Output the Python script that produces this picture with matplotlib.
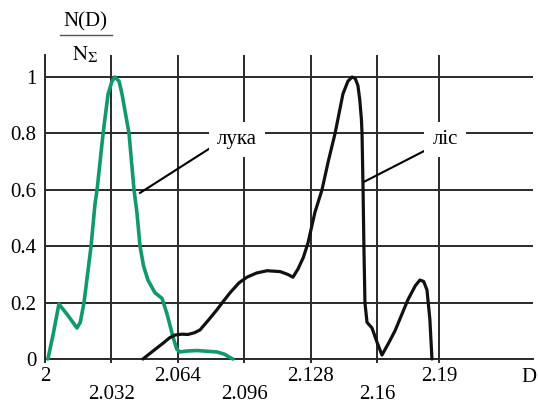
import matplotlib
matplotlib.use("Agg")
import matplotlib.pyplot as plt

# ---- data ----
luka_D = [2.0014, 2.0040, 2.0067, 2.0110, 2.0154, 2.0170, 2.0188, 2.0222, 2.0241, 2.0251,
          2.0280, 2.0304, 2.0323, 2.0337, 2.0357, 2.0371, 2.0405, 2.0429, 2.0443,
          2.0458, 2.0475, 2.0496, 2.0530, 2.0564, 2.0588, 2.0617, 2.0635, 2.0650,
          2.0680, 2.0733, 2.0829, 2.0865, 2.0892, 2.0906]
luka_N = [0.0, 0.09, 0.195, 0.155, 0.11, 0.13, 0.20, 0.40, 0.55, 0.60,
          0.80, 0.94, 0.985, 1.0, 0.985, 0.94, 0.80, 0.60, 0.52,
          0.40, 0.33, 0.28, 0.235, 0.215, 0.16, 0.078, 0.035, 0.025,
          0.028, 0.03, 0.025, 0.017, 0.005, 0.0]

lis_D = [2.0472, 2.0520, 2.0569, 2.0600, 2.0627, 2.0660, 2.0689, 2.0720, 2.0747,
         2.0790, 2.0829, 2.0860, 2.0892, 2.0935, 2.0973, 2.1020, 2.1070, 2.1133,
         2.1170, 2.1195, 2.1220, 2.1245, 2.1267, 2.1301, 2.1335, 2.1365, 2.1398,
         2.1436, 2.1460, 2.1480, 2.1495, 2.1508, 2.1517, 2.1525, 2.1528, 2.1533,
         2.1537, 2.1542, 2.1552, 2.1576, 2.1600, 2.1624, 2.1655, 2.1687, 2.1749,
         2.1785, 2.1807, 2.1825, 2.1841, 2.1855, 2.1865]
lis_N = [0.0, 0.028, 0.056, 0.075, 0.085, 0.088, 0.087, 0.093, 0.103,
         0.14, 0.175, 0.205, 0.235, 0.27, 0.29, 0.305, 0.313, 0.31,
         0.30, 0.29, 0.32, 0.36, 0.41, 0.52, 0.60, 0.70, 0.80,
         0.94, 0.985, 1.0, 0.995, 0.97, 0.92, 0.85, 0.80, 0.60,
         0.40, 0.20, 0.13, 0.11, 0.06, 0.014, 0.055, 0.10, 0.21,
         0.26, 0.28, 0.275, 0.245, 0.14, 0.0]

x_ticks_upper = [2.0, 2.064, 2.128, 2.19]
x_labels_upper = ["2", "2.064", "2.128", "2.19"]
x_ticks_lower = [2.032, 2.096, 2.16]
x_labels_lower = ["2.032", "2.096", "2.16"]
y_ticks = [0, 0.2, 0.4, 0.6, 0.8, 1.0]
y_labels = ["0", "0.2", "0.4", "0.6", "0.8", "1"]

plt.rcParams['font.family'] = ['Liberation Serif', 'DejaVu Serif']
plt.rcParams['mathtext.fontset'] = 'stix'

GREEN = '#12996b'
GRID = '#2a2a2a'
FS = 15

fig = plt.figure(figsize=(5.38, 4.03), dpi=100)
ax = fig.add_axes([45/538, (403-359)/403, 488/538, 304/403])
ax.set_xlim(2.0, 2.2352)
ax.set_ylim(0, 1.078)

for s in ['top', 'right']:
    ax.spines[s].set_visible(False)
for s in ['left', 'bottom']:
    ax.spines[s].set_color(GRID)
    ax.spines[s].set_linewidth(1.4)

ax.set_xticks(x_ticks_upper)
ax.set_xticklabels(x_labels_upper)
ax.set_xticks(x_ticks_lower, minor=True)
ax.set_xticklabels(x_labels_lower, minor=True)
ax.set_yticks(y_ticks)
ax.set_yticklabels(y_labels)

ax.tick_params(axis='x', which='major', direction='out', length=3, width=1.4,
               color=GRID, pad=3, labelsize=FS)
ax.tick_params(axis='x', which='minor', direction='out', length=3, width=1.4,
               color=GRID, pad=15.5, labelsize=FS)
ax.tick_params(axis='y', length=0, pad=6, labelsize=FS)

ax.grid(True, axis='x', which='both', color=GRID, linewidth=1.4)
ax.grid(True, axis='y', which='major', color=GRID, linewidth=1.4)
ax.set_axisbelow(True)

ax.plot(luka_D, luka_N, color=GREEN, lw=2.6, clip_on=False, zorder=3,
        solid_joinstyle='round', solid_capstyle='round')
ax.plot(lis_D, lis_N, color='#111111', lw=2.3, clip_on=False, zorder=3,
        solid_joinstyle='round', solid_capstyle='round')

# leader lines
ax.plot([2.0458, 2.0805], [0.589, 0.752], color='black', lw=1.5, zorder=4)
ax.plot([2.1537, 2.1855], [0.628, 0.748], color='black', lw=1.5, zorder=4)

ax.text(2.0925, 0.777, "лука", fontsize=FS, ha='center', va='center', zorder=5,
        bbox=dict(boxstyle='square,pad=0.38', facecolor='white', edgecolor='none'))
ax.text(2.1928, 0.777, "ліс", fontsize=FS, ha='center', va='center', zorder=5,
        bbox=dict(boxstyle='square,pad=0.38', facecolor='white', edgecolor='none'))

# y-axis label as a fraction
fig.text(85/538, 1-22/403, "N(D)", fontsize=FS, ha='center', va='center')
fig.add_artist(plt.Line2D([60/538, 112/538], [1-35/403, 1-35/403],
                          color='#555555', lw=1.0))
fig.text(85/538, 1-55/403, r"$\mathrm{N}_{\Sigma}$", fontsize=FS, ha='center', va='center')

# x-axis label
fig.text(529/538, 1-378/403, "D", fontsize=FS, ha='center', va='center')

fig.savefig("out.png", dpi=100)
